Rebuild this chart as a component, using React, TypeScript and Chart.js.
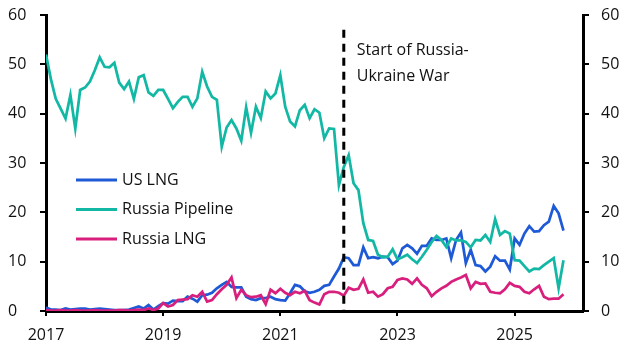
import React, { useEffect, useRef } from "react";
import { Chart, registerables } from "chart.js";

Chart.register(...registerables);

// ---- data (monthly, starting January 2017) ----
const startYear = 2017;
const xTickYears = [2017, 2019, 2021, 2023, 2025];
const xMaxMonth = 110; // axis runs to ~March 2026
const yTicks = [0, 10, 20, 30, 40, 50, 60];
const warMonthIndex = 61; // February 2022
const warLineTop = 57;
const annotationLines = ["Start of Russia-", "Ukraine War"];
const seriesNames = ["US LNG", "Russia Pipeline", "Russia LNG"];
const seriesColors = ["#1f5ad6", "#13b8a5", "#d81f7d"];

const usLng = [
  0.7, 0.3, 0.3, 0.2, 0.5, 0.3, 0.4, 0.5, 0.5, 0.3, 0.4, 0.5, 0.4, 0.3, 0.2, 0.2, 0.2, 0.3, 0.6, 0.9, 0.5, 1.2, 0.3, 1.0,
  1.6, 1.5, 2.1, 2.0, 2.0, 2.9, 2.5, 1.9, 3.2, 3.3, 3.7, 4.6, 5.3, 5.9, 4.9, 4.8, 4.8, 2.9, 2.4, 2.2, 2.6, 2.6, 2.9, 2.4,
  2.2, 2.1, 3.6, 5.3, 5.0, 4.0, 3.7, 3.9, 4.3, 5.1, 5.3, 7.0, 8.6, 10.9, 10.7, 9.3, 9.3, 12.9, 10.7, 10.9, 10.7, 11.0, 10.9, 9.5,
  10.2, 12.7, 13.4, 12.7, 11.6, 13.2, 13.2, 14.7, 14.4, 14.4, 14.7, 10.7, 14.4, 15.9, 9.7, 12.4, 9.3, 9.1, 8.0, 9.0, 11.1, 10.2, 10.2, 8.4,
  14.7, 13.4, 15.7, 17.2, 16.1, 16.2, 17.4, 18.1, 21.3, 19.8, 16.3,
];

const russiaPipeline = [
  52, 47, 43, 41, 39, 43.8, 37, 44.8, 45.3, 46.5, 48.8, 51.4, 49.5, 49.4, 50.3, 46.3, 45, 46.5, 43, 47.4, 47.8, 44.3, 43.6, 44.8,
  44.8, 43, 41.1, 42.4, 43.4, 43.4, 41.4, 43.1, 48.5, 45.5, 43.4, 42.8, 33.3, 37.2, 38.7, 37, 34.5, 41.3, 36.1, 41.4, 39.1, 44.5, 43.1, 44.1,
  47.8, 41.4, 38.4, 37.4, 40.7, 41.8, 39.1, 40.9, 40.2, 35, 37, 36.9, 25.5, 29.2, 31.6, 25.9, 24.5, 17.8, 14.4, 14.2, 11.4, 10.9, 11, 12.5,
  10.5, 10.9, 11.4, 10.5, 9.7, 11, 12.4, 14, 15.2, 14.4, 13, 14.7, 14.3, 14.3, 14, 12.9, 14.4, 14.3, 15.4, 14, 18.6, 15.4, 16.2, 15.7,
  10.3, 10.2, 9.1, 8, 8.6, 8.5, 9.3, 10, 10.7, 4.6, 10.3,
];

const russiaLng = [
  0.2, 0.1, 0.1, 0.2, 0.1, 0.1, 0.2, 0.1, 0.1, 0.1, 0.2, 0.1, 0.1, 0.1, 0.1, 0.2, 0.2, 0.1, 0.2, 0.3, 0.2, 0.5, 0.2, 0.5,
  1.6, 0.9, 1.2, 2.2, 2.3, 2.4, 3.2, 2.9, 3.9, 1.9, 2.2, 3.4, 4.4, 5.3, 6.8, 2.6, 4.3, 3.2, 2.8, 2.9, 3.2, 1.4, 4.3, 3.6,
  4.5, 3.7, 3.2, 3.9, 3.6, 4.1, 2.2, 1.7, 1.3, 3.4, 3.9, 3.9, 3.7, 3.1, 4.7, 4.3, 4.5, 6.4, 3.7, 3.9, 2.9, 3.4, 4.6, 4.9,
  6.3, 6.6, 6.4, 5.5, 6.6, 5.3, 4.6, 3.0, 3.9, 4.6, 5.1, 5.9, 6.4, 6.8, 7.3, 4.6, 5.9, 5.5, 5.6, 3.9, 3.7, 3.6, 4.4, 5.7,
  5.1, 4.9, 3.9, 3.6, 4.4, 5.1, 2.9, 2.4, 2.5, 2.5, 3.4,
];

const FONT_FAMILY = "'Open Sans', Lato, 'Liberation Sans', sans-serif";
const TEXT_COLOR = "#111";

const toPoints = (arr: number[]) => arr.map((v, i) => ({ x: i, y: v }));

const insideLegend = {
  id: "insideLegend",
  afterDatasetsDraw(chart: any) {
    const ctx = chart.ctx;
    const x0 = 76;
    const x1 = 117;
    const tx = 122;
    const y0 = 180;
    const gap = 29.5;
    ctx.save();
    ctx.font = `16px ${FONT_FAMILY}`;
    ctx.textBaseline = "middle";
    chart.data.datasets.forEach((ds: any, i: number) => {
      const y = y0 + gap * i;
      ctx.strokeStyle = ds.borderColor;
      ctx.lineWidth = 3;
      ctx.beginPath();
      ctx.moveTo(x0, y);
      ctx.lineTo(x1, y);
      ctx.stroke();
      ctx.fillStyle = TEXT_COLOR;
      ctx.fillText(ds.label, tx, y);
    });
    ctx.restore();
  },
};

const warMarker = {
  id: "warMarker",
  afterDatasetsDraw(chart: any) {
    const ctx = chart.ctx;
    const xs = chart.scales.x;
    const ys = chart.scales.y;
    const px = xs.getPixelForValue(warMonthIndex);
    const top = ys.getPixelForValue(warLineTop);
    const bottom = ys.getPixelForValue(0);
    ctx.save();
    ctx.strokeStyle = "#000";
    ctx.lineWidth = 3;
    ctx.setLineDash([8, 6]);
    ctx.beginPath();
    ctx.moveTo(px, top);
    ctx.lineTo(px, bottom);
    ctx.stroke();
    ctx.setLineDash([]);
    ctx.fillStyle = TEXT_COLOR;
    ctx.font = `16px ${FONT_FAMILY}`;
    ctx.textBaseline = "middle";
    annotationLines.forEach((t, i) => {
      ctx.fillText(t, px + 13, ys.getPixelForValue(52.8) + i * 26);
    });
    ctx.restore();
  },
};

export default function App() {
  const canvasRef = useRef<HTMLCanvasElement | null>(null);

  useEffect(() => {
    if (!canvasRef.current) return;
    const seriesData = [usLng, russiaPipeline, russiaLng];
    const tickFont = { family: FONT_FAMILY, size: 16 };
    const yCommon = {
      min: 0,
      max: 60,
      afterBuildTicks: (s: any) => {
        s.ticks = yTicks.map((v) => ({ value: v }));
      },
      grid: { drawOnChartArea: false, tickLength: 6, lineWidth: 2, color: "#000" },
      border: { color: "#000", width: 3 },
    };
    const chart = new Chart(canvasRef.current, {
      type: "line",
      data: {
        datasets: seriesData.map((arr, i) => ({
          label: seriesNames[i],
          data: toPoints(arr),
          borderColor: seriesColors[i],
          backgroundColor: seriesColors[i],
          borderWidth: 2.75,
          pointRadius: 0,
          tension: 0,
          fill: false,
          order: 3 - i,
        })),
      },
      options: {
        animation: false,
        responsive: true,
        maintainAspectRatio: false,
        layout: { padding: { top: 15, left: 8, right: 0, bottom: 0 } },
        plugins: { legend: { display: false }, tooltip: { enabled: false } },
        scales: {
          x: {
            type: "linear",
            min: 0,
            max: xMaxMonth,
            afterBuildTicks: (s: any) => {
              s.ticks = xTickYears.map((y) => ({ value: (y - startYear) * 12 }));
            },
            afterFit: (s: any) => {
              s.height = 44;
            },
            ticks: {
              callback: (v: any) => String(startYear + Math.round(Number(v) / 12)),
              font: tickFont,
              color: TEXT_COLOR,
              padding: 10,
              maxRotation: 0,
              autoSkip: false,
            },
            grid: { drawOnChartArea: false, tickLength: 5, lineWidth: 2, color: "#000" },
            border: { color: "#000", width: 3 },
          },
          y: {
            ...yCommon,
            position: "left",
            afterFit: (s: any) => {
              s.width = 38;
              s.paddingTop = 0;
              s.paddingBottom = 0;
            },
            ticks: { font: tickFont, color: TEXT_COLOR, padding: 4, crossAlign: "far" },
          },
          y2: {
            ...yCommon,
            position: "right",
            afterFit: (s: any) => {
              s.width = 48;
              s.paddingTop = 0;
              s.paddingBottom = 0;
            },
            ticks: { font: tickFont, color: TEXT_COLOR, padding: 12 },
          },
        },
      } as any,
      plugins: [warMarker, insideLegend],
    });
    return () => chart.destroy();
  }, []);

  return (
    <div style={{ position: "fixed", left: 0, top: 0, width: 631, height: 355, background: "#fff" }}>
      <canvas ref={canvasRef} />
    </div>
  );
}
